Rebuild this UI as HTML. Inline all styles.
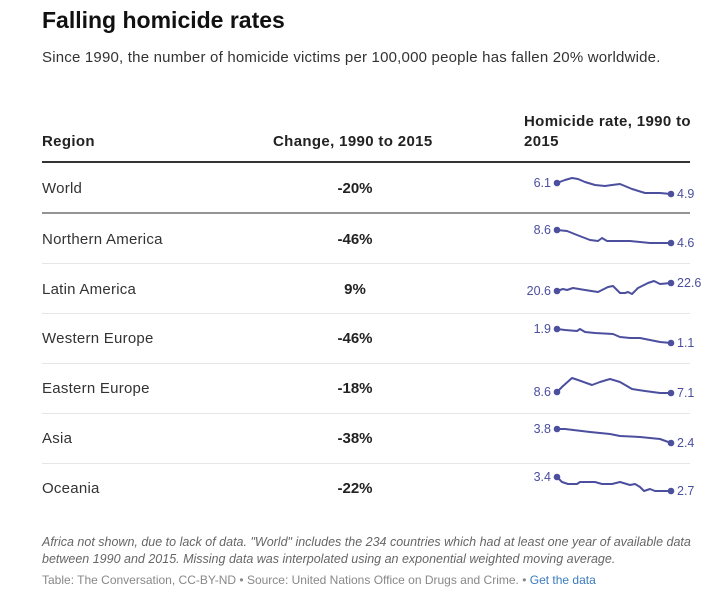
<!DOCTYPE html>
<html><head><style>
body{margin:0;width:710px;height:600px;background:#fff;font-family:"Liberation Sans",sans-serif;color:#222;position:relative;overflow:hidden}
.a{position:absolute;white-space:nowrap}
h1{position:absolute;left:42px;top:7px;margin:0;font-size:23px;font-weight:bold;color:#111}
.sub{left:42px;top:49px;font-size:15px;color:#333;letter-spacing:0.2px}
.hd{font-size:15px;font-weight:bold;color:#222;letter-spacing:0.35px}
.reg{left:42px;font-size:15px;color:#333;letter-spacing:0.25px}
.ch{left:330px;width:50px;text-align:center;font-size:15px;font-weight:bold;color:#222}
.foot{left:42px;top:534px;font-size:12.5px;font-style:italic;color:#666;line-height:17px;white-space:normal;width:660px}
.src{left:42px;top:573px;font-size:12px;color:#888}
</style></head><body>
<h1>Falling homicide rates</h1>
<div class="a sub">Since 1990, the number of homicide victims per 100,000 people has fallen 20% worldwide.</div>
<div class="a hd" style="left:42px;top:133px">Region</div>
<div class="a hd" style="left:273px;top:133px">Change, 1990 to 2015</div>
<div class="a hd" style="left:524px;top:112px;line-height:20px">Homicide rate, 1990 to<br>2015</div>
<div class="a reg" style="top:180px">World</div>
<div class="a reg" style="top:231px">Northern America</div>
<div class="a reg" style="top:281px">Latin America</div>
<div class="a reg" style="top:330px">Western Europe</div>
<div class="a reg" style="top:380px">Eastern Europe</div>
<div class="a reg" style="top:430px">Asia</div>
<div class="a reg" style="top:480px">Oceania</div>
<div class="a ch" style="top:180px">-20%</div>
<div class="a ch" style="top:231px">-46%</div>
<div class="a ch" style="top:281px">9%</div>
<div class="a ch" style="top:330px">-46%</div>
<div class="a ch" style="top:380px">-18%</div>
<div class="a ch" style="top:430px">-38%</div>
<div class="a ch" style="top:480px">-22%</div>
<svg class="a" style="left:0;top:0" width="710" height="600">
<line x1="42" y1="162" x2="690" y2="162" stroke="#333" stroke-width="2"/>
<line x1="42" y1="213" x2="690" y2="213" stroke="#555" stroke-width="1.2"/>
<g stroke="#e6e6e6" stroke-width="1"><line x1="42" y1="263.5" x2="690" y2="263.5"/><line x1="42" y1="313.5" x2="690" y2="313.5"/><line x1="42" y1="363.5" x2="690" y2="363.5"/><line x1="42" y1="413.5" x2="690" y2="413.5"/><line x1="42" y1="463.5" x2="690" y2="463.5"/></g>
<g fill="none" stroke="#4b4f9e" stroke-width="2" stroke-linejoin="round">
<polyline points="557,183 565,180 572,178 578,179 585,182 595,185 605,186 612,185 620,184 632,189 645,193 660,193 671,194"/>
<polyline points="557,230 567,231 577,235 590,240 598,241 602,238 607,241 630,241 650,243 671,243"/>
<polyline points="557,291 563,289 567,290 573,288 585,290 598,292 608,287 613,286 620,293 625,293 628,292 632,294 638,288 648,283 654,281 660,284 671,283"/>
<polyline points="557,329 565,330 577,331 580,329 585,332 595,333 613,334 620,337 630,338 640,338 650,340 660,342 671,343"/>
<polyline points="557,392 563,386 572,378 578,380 592,385 600,382 610,379 620,382 632,389 645,391 660,393 671,393"/>
<polyline points="557,429 565,429 590,432 600,433 610,434 620,436 640,437 660,439 671,443"/>
<polyline points="557,477 562,482 568,484 577,484 580,482 595,482 602,484 612,484 620,482 630,485 635,484 640,487 644,491 650,489 655,491 671,491"/>
</g>
<g fill="#4b4f9e">
<circle cx="557" cy="183" r="3.3"/><circle cx="671" cy="194" r="3.3"/>
<circle cx="557" cy="230" r="3.3"/><circle cx="671" cy="243" r="3.3"/>
<circle cx="557" cy="291" r="3.3"/><circle cx="671" cy="283" r="3.3"/>
<circle cx="557" cy="329" r="3.3"/><circle cx="671" cy="343" r="3.3"/>
<circle cx="557" cy="392" r="3.3"/><circle cx="671" cy="393" r="3.3"/>
<circle cx="557" cy="429" r="3.3"/><circle cx="671" cy="443" r="3.3"/>
<circle cx="557" cy="477" r="3.3"/><circle cx="671" cy="491" r="3.3"/>
</g>
<g fill="#4b4f9e" font-family="Liberation Sans" font-size="12.5">
<text x="551" y="187" text-anchor="end">6.1</text><text x="677" y="198">4.9</text>
<text x="551" y="234" text-anchor="end">8.6</text><text x="677" y="247">4.6</text>
<text x="551" y="295" text-anchor="end">20.6</text><text x="677" y="287">22.6</text>
<text x="551" y="333" text-anchor="end">1.9</text><text x="677" y="347">1.1</text>
<text x="551" y="396" text-anchor="end">8.6</text><text x="677" y="397">7.1</text>
<text x="551" y="433" text-anchor="end">3.8</text><text x="677" y="447">2.4</text>
<text x="551" y="481" text-anchor="end">3.4</text><text x="677" y="495">2.7</text>
</g>
</svg>
<div class="a foot">Africa not shown, due to lack of data. "World" includes the 234 countries which had at least one year of available data between 1990 and 2015. Missing data was interpolated using an exponential weighted moving average.</div>
<div class="a src">Table: The Conversation, CC-BY-ND • Source: United Nations Office on Drugs and Crime. • <span style="color:#3a7bbf">Get the data</span></div>
</body></html>
